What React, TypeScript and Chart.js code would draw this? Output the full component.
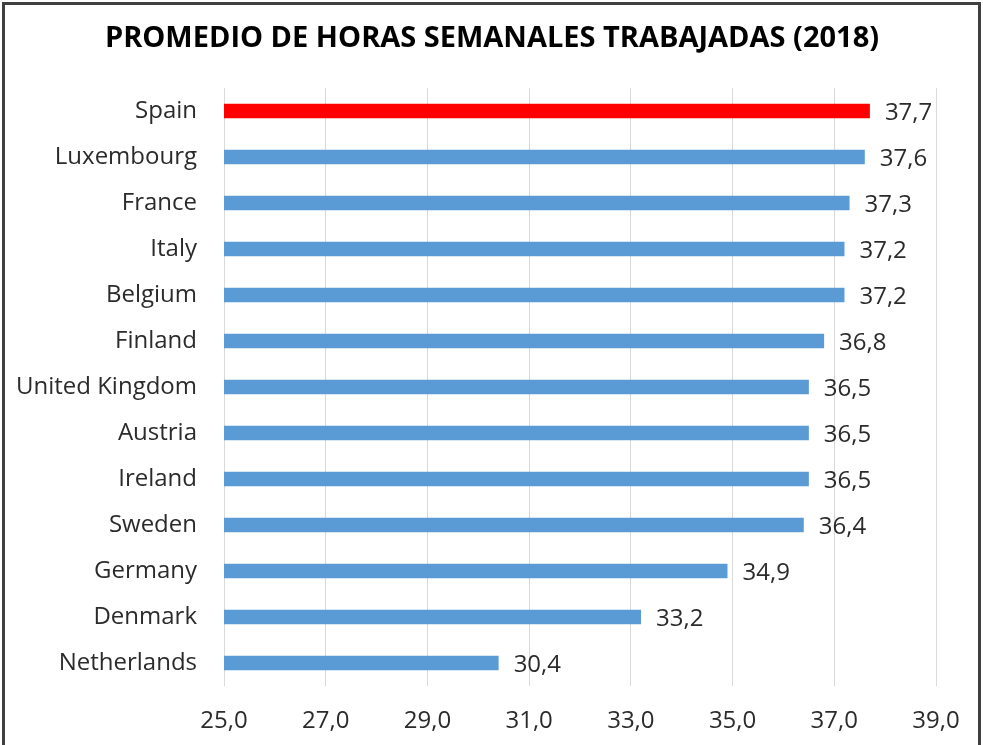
import React, { useEffect, useRef } from "react";
import { Chart, registerables } from "chart.js";

Chart.register(...registerables);

const countries = [
  "Spain",
  "Luxembourg",
  "France",
  "Italy",
  "Belgium",
  "Finland",
  "United Kingdom",
  "Austria",
  "Ireland",
  "Sweden",
  "Germany",
  "Denmark",
  "Netherlands",
];
const hours = [37.7, 37.6, 37.3, 37.2, 37.2, 36.8, 36.5, 36.5, 36.5, 36.4, 34.9, 33.2, 30.4];
const highlight = "Spain";
const titleText = "PROMEDIO DE HORAS SEMANALES TRABAJADAS (2018)";
const xMin = 25;
const xMax = 39;
const xStep = 2;

const FONT = "'Open Sans', sans-serif";
const fmt = (v: number) => v.toFixed(1).replace(".", ",");

export default function App() {
  const ref = useRef<HTMLCanvasElement>(null);
  useEffect(() => {
    document.body.style.margin = "0";
    const ctx = ref.current!.getContext("2d")!;
    const decor = {
      id: "decor",
      afterDraw(chart: any) {
        const c = chart.ctx;
        c.save();
        // title
        c.fillStyle = "#000";
        c.font = `bold 29px ${FONT}`;
        c.textAlign = "center";
        c.textBaseline = "middle";
        c.fillText(titleText, 492, 39);
        // value labels
        const meta = chart.getDatasetMeta(0);
        c.font = `24px ${FONT}`;
        c.fillStyle = "#2b2b2b";
        c.textAlign = "left";
        meta.data.forEach((bar: any, i: number) => {
          c.fillText(fmt(hours[i]), bar.x + 15, bar.y + 2);
        });
        // outer border
        c.strokeStyle = "#404040";
        c.lineWidth = 3;
        c.strokeRect(3.5, 3.5, 976, 800);
        c.restore();
      },
    };
    const chart = new Chart(ctx, {
      type: "bar",
      data: {
        labels: countries,
        datasets: [
          {
            data: hours,
            backgroundColor: countries.map((c) => (c === highlight ? "#FF0000" : "#5B9BD5")),
            barPercentage: 0.32,
            categoryPercentage: 1,
          },
        ],
      },
      options: {
        indexAxis: "y",
        animation: false,
        responsive: false,
        layout: { padding: { top: 88, right: 47, left: 0, bottom: 0 } },
        plugins: { legend: { display: false }, tooltip: { enabled: false } },
        scales: {
          x: {
            min: xMin,
            max: xMax,
            ticks: {
              stepSize: xStep,
              padding: 21,
              color: "#2b2b2b",
              font: { family: FONT, size: 24 },
              callback: (v: any) => fmt(Number(v)),
            },
            grid: { color: "#d9d9d9", drawTicks: false },
            border: { display: false },
            afterFit: (s: any) => {
              s.height = 59;
            },
          },
          y: {
            ticks: {
              padding: 19,
              color: "#2b2b2b",
              font: { family: FONT, size: 24 },
            },
            grid: { display: false },
            border: { display: false },
            afterFit: (s: any) => {
              s.width = 224;
            },
          },
        },
      },
      plugins: [decor],
    });
    return () => chart.destroy();
  }, []);
  return (
    <div style={{ position: "fixed", left: 0, top: 0, width: 983, height: 745, background: "#fff" }}>
      <canvas ref={ref} width={983} height={745} />
    </div>
  );
}
